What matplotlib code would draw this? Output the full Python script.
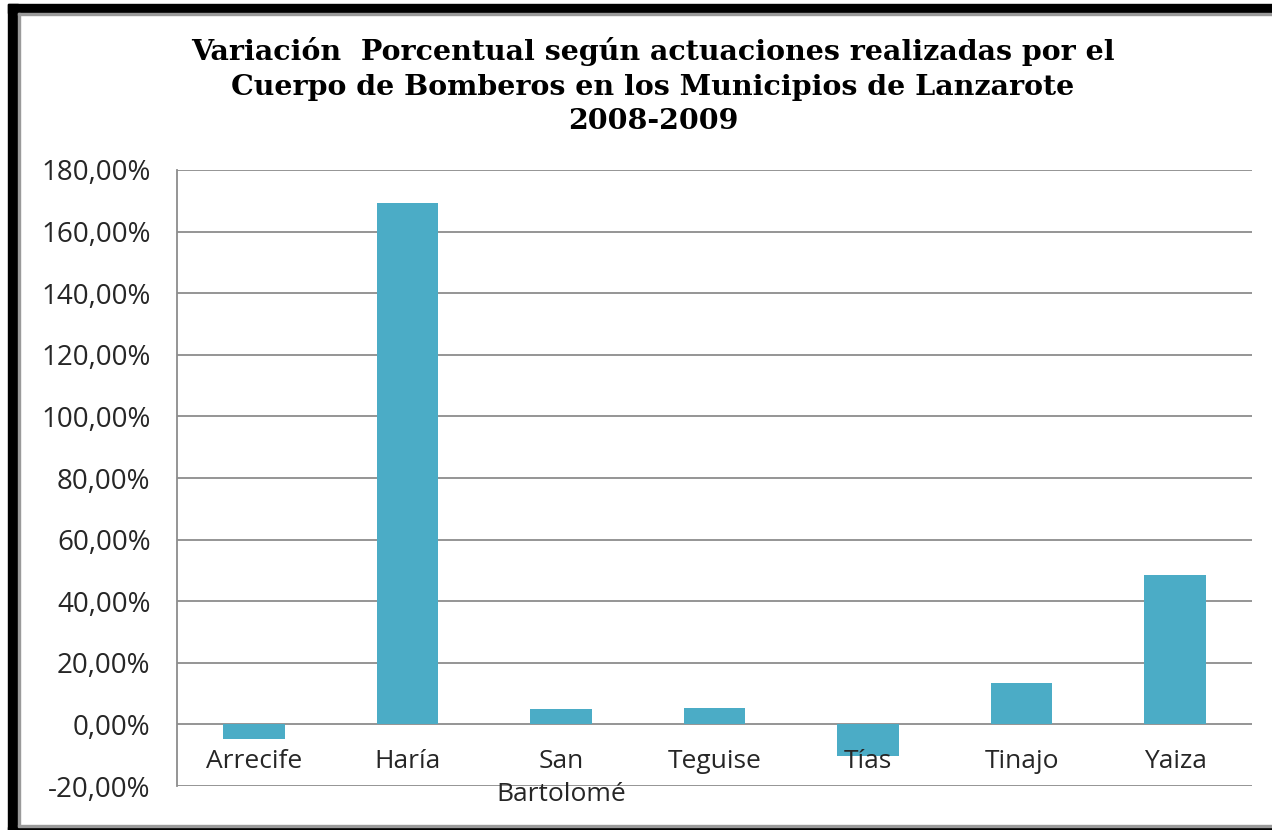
import matplotlib
matplotlib.use('Agg')
import matplotlib.pyplot as plt
from matplotlib.patches import Rectangle
from matplotlib.ticker import FuncFormatter

municipios = ['Arrecife', 'Haría', 'San\nBartolomé', 'Teguise', 'Tías', 'Tinajo', 'Yaiza']
variacion = [-4.9, 169.2, 4.9, 5.2, -10.1, 13.6, 48.4]
y_ticks = [-20, 0, 20, 40, 60, 80, 100, 120, 140, 160, 180]

bar_color = '#4BACC6'
grid_color = '#8c8c8c'
text_color = '#262626'

W, H = 1272, 830
fig = plt.figure(figsize=(W / 100, H / 100), dpi=100)

# marco negro de la imagen
def px_rect(x0, y0, x1, y1, color):
    fig.patches.append(Rectangle((x0 / W, 1 - y1 / H), (x1 - x0) / W, (y1 - y0) / H,
                                 transform=fig.transFigure, color=color, zorder=0))

px_rect(8, 4, W, 13, 'black')
px_rect(8, 4, 18, H, 'black')
px_rect(8, 827, W, H, 'black')
px_rect(18, 13, W, 15, '#9a9a9a')
px_rect(18, 13, 20, 826, '#9a9a9a')
px_rect(18, 825, W, 827, '#9a9a9a')

ax = fig.add_axes([177 / W, 44 / H, (1252 - 177) / W, (786 - 170) / H])
x = range(len(municipios))

# rejilla debajo de las barras, etiquetas encima
for t in y_ticks:
    ax.axhline(t, color=grid_color, linewidth=1.3, zorder=1)
ax.bar(x, variacion, width=0.4, color=bar_color, zorder=2)
ax.xaxis.set_zorder(5)

ax.set_ylim(-20, 180)
ax.set_xlim(-0.5, len(municipios) - 0.5)
ax.set_yticks(y_ticks)
ax.yaxis.set_major_formatter(FuncFormatter(lambda v, p: f'{v:.2f}'.replace('.', ',') + '%'))
ax.set_xticks(list(x))
ax.set_xticklabels(municipios, fontfamily='Open Sans', fontsize=19, color=text_color,
                   linespacing=1.45)
for lbl in ax.get_yticklabels():
    lbl.set_fontfamily('Open Sans')
    lbl.set_fontsize(20)
    lbl.set_color(text_color)
ax.tick_params(axis='x', length=0, pad=-27)
ax.tick_params(axis='y', length=0, pad=19)
for s in ['top', 'right', 'bottom']:
    ax.spines[s].set_visible(False)
ax.spines['left'].set_color(grid_color)
ax.spines['left'].set_linewidth(1.3)
ax.set_facecolor('none')

fig.text(653 / W, 1 - 37 / H,
         'Variación  Porcentual según actuaciones realizadas por el\n'
         'Cuerpo de Bomberos en los Municipios de Lanzarote\n2008-2009',
         ha='center', va='top', fontsize=20.5, fontweight='bold',
         fontfamily='DejaVu Serif', linespacing=1.36)

fig.savefig('out.png', dpi=100)
